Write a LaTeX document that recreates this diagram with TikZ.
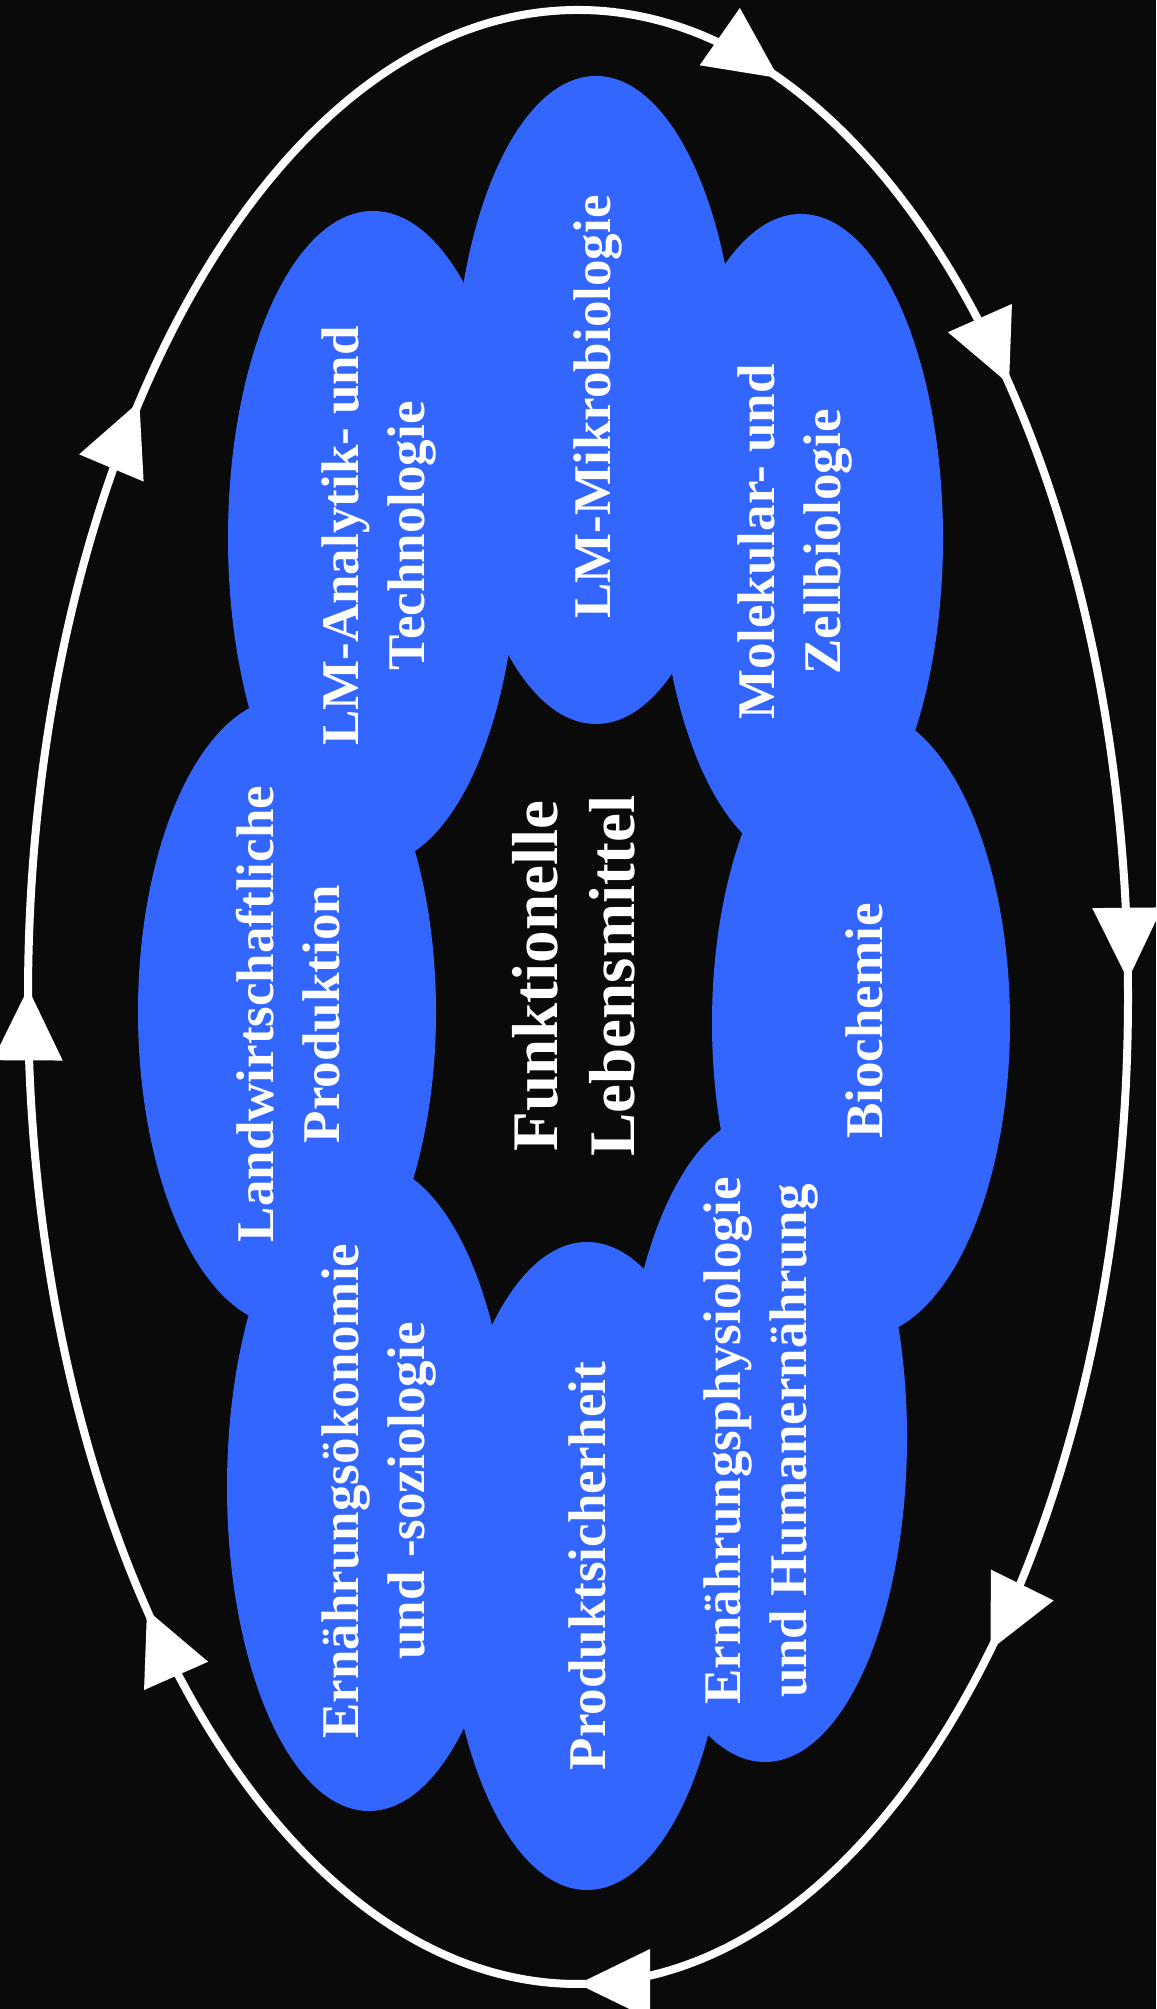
\documentclass[tikz,border=0pt]{standalone}
\usepackage{fontspec}
\setmainfont{Liberation Serif}
\usetikzlibrary{shapes.geometric}
\definecolor{bgcol}{RGB}{10,10,10}
\definecolor{blobcol}{RGB}{51,102,255}
\begin{document}
\begin{tikzpicture}[x=1pt,y=1pt,
  blob/.style={ellipse, fill=blobcol, draw=none, inner sep=0pt},
  ringblob/.style={blob, minimum width=284pt, minimum height=648pt},
  sideblob/.style={blob, minimum width=298pt, minimum height=628pt},
  lbl/.style={text=white, rotate=90, align=center, inner sep=0pt,
    font=\bfseries\fontsize{53}{66}\selectfont},
  mainlbl/.style={text=white, rotate=90, align=center, inner sep=0pt,
    font=\bfseries\fontsize{65}{77}\selectfont},
  ring/.style={draw=white, line width=8pt}
]
\fill[bgcol] (0,0) rectangle (1156,2009);
\useasboundingbox (0,0) rectangle (1156,2009);

% outer ring
\draw[ring] (578,1012) ellipse [x radius=550pt, y radius=987pt];
\foreach \t in {68.6, 38.4, 1, -41.4, -90, -141.6, 179.5, 142.9} {
  \pgfmathsetmacro\px{578+550*cos(\t)}
  \pgfmathsetmacro\py{1012+987*sin(\t)}
  \pgfmathsetmacro\ang{atan2(-987*cos(\t), 550*sin(\t))}
  \fill[white, shift={(\px,\py)}, rotate=\ang] (0,0) -- (-72,35) -- (-72,-35) -- cycle;
}

% blobs
\node[ringblob, minimum width=290pt, minimum height=654pt] (ana) at (373,1471) {};
\node[ringblob] (mik) at (596,1609) {};
\node[ringblob] (mol) at (801,1471) {};
\node[sideblob] (lan) at (287,997) {};
\node[sideblob] (bio) at (861,986) {};
\node[ringblob] (oek) at (369,522) {};
\node[ringblob] (pro) at (587,443) {};
\node[ringblob] (phy) at (765,571) {};

% labels
\node[lbl] (tana) at (379,1473) {LM-Analytik- und\\Technologie};
\node[lbl] (tmik) at (598,1602) {LM-Mikrobiologie};
\node[lbl] (tmol) at (795,1467) {Molekular- und\\Zellbiologie};
\node[lbl] (tlan) at (288,995) {Landwirtschaftliche\\Produktion};
\node[lbl] (tbio) at (864,988) {Biochemie};
\node[lbl] (toek) at (379,518) {Ernährungsökonomie\\und -soziologie};
\node[lbl] (tpro) at (587,443) {Produktsicherheit};
\node[lbl] (tphy) at (761,568) {Ernährungsphysiologie\\und Humanernährung};
\node[mainlbl] (center) at (574,1033) {Funktionelle\\Lebensmittel};
\end{tikzpicture}
\end{document}
